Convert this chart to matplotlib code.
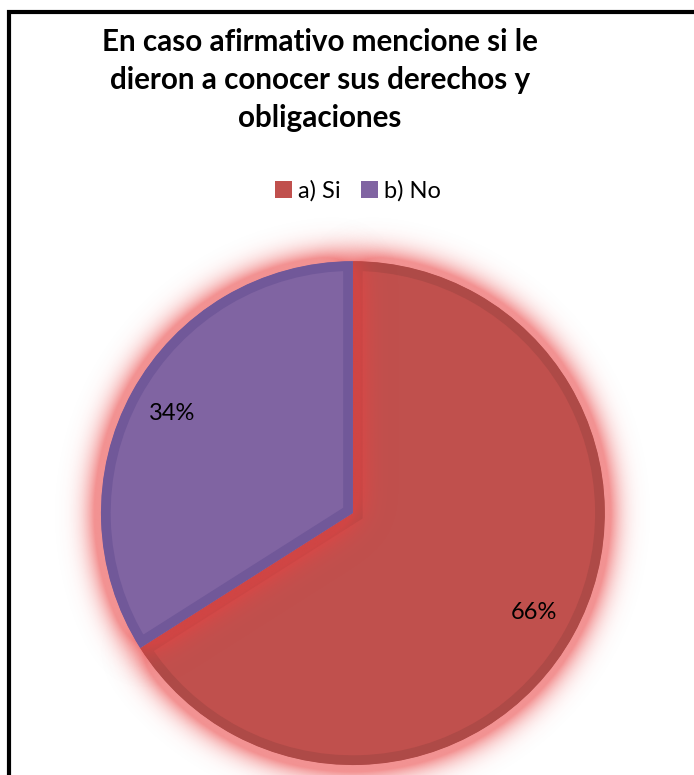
import numpy as np
import matplotlib
matplotlib.use("Agg")
import matplotlib.pyplot as plt
from matplotlib.patches import Patch, Rectangle

plt.rcParams['font.family'] = ['Lato', 'DejaVu Sans']

# survey answers
labels = ['a) Si', 'b) No']
values = [66, 34]
colors = ['#C0504D', '#8064A2']
edge_colors = ['#AE4A47', '#715899']
title = 'En caso afirmativo mencione si le\ndieron a conocer sus derechos y\nobligaciones'

glow_rgb = np.array([234, 66, 66]) / 255.0


def blur(img, sigma):
    # separable gaussian blur, sigma in grid cells
    half = int(4 * sigma)
    k = np.exp(-0.5 * (np.arange(-half, half + 1) / sigma) ** 2)
    k /= k.sum()
    out = np.apply_along_axis(lambda r: np.convolve(r, k, mode='same'), 0, img)
    out = np.apply_along_axis(lambda r: np.convolve(r, k, mode='same'), 1, out)
    return out


def glow_image(wedge, lim, n=700, sigma=0.065, strength=0.58):
    xs = np.linspace(-lim, lim, n)
    X, Y = np.meshgrid(xs, xs)
    cx, cy = wedge.center
    R = np.hypot(X - cx, Y - cy)
    phi = np.degrees(np.arctan2(Y - cy, X - cx))
    span = wedge.theta2 - wedge.theta1
    inside = (R <= wedge.r) & (((phi - wedge.theta1) % 360) <= span)
    b = blur(inside.astype(float), sigma / (2 * lim / n))
    rgba = np.zeros((n, n, 4))
    rgba[..., :3] = glow_rgb
    rgba[..., 3] = strength * np.clip(3.0 * b, 0, 1)
    return rgba


fig = plt.figure(figsize=(6.94, 7.75), dpi=100)

lim = 1.3
ax = fig.add_axes([25.4 / 694, -65.6 / 775, 655 / 694, 655 / 775])

wedges, texts, autotexts = ax.pie(
    values, colors=colors, startangle=90, counterclock=False,
    autopct='%1.0f%%', pctdistance=0.82, radius=1.0,
    textprops={'fontsize': 17, 'color': 'black'},
    wedgeprops={'linewidth': 14, 'joinstyle': 'miter'})

# each slice: glow underneath, then the slice with an inner dark rim
# (pie turns clipping off, so switch it back on to keep the rim inside)
for i, w in enumerate(wedges):
    ax.imshow(glow_image(w, lim), extent=[-lim, lim, -lim, lim],
              origin='lower', zorder=2 * i + 1, interpolation='bilinear')
    w.set_edgecolor(edge_colors[i])
    w.set_clip_on(True)
    w.set_clip_path(w)
    w.set_zorder(2 * i + 2)

for t in autotexts:
    t.set_zorder(10)

ax.set_xlim(-lim, lim)
ax.set_ylim(-lim, lim)
ax.set_aspect('equal')
ax.axis('off')

fig.text(320 / 694, 1 - 80 / 775, title, ha='center', va='center',
         fontsize=21.3, fontweight='bold', linespacing=1.42)

handles = [Patch(facecolor=c, edgecolor='none') for c in colors]
fig.legend(handles, labels, loc='center', bbox_to_anchor=(358 / 694, 1 - 191 / 775),
           ncol=2, frameon=False, fontsize=17, handlelength=0.7, handleheight=0.7,
           handletextpad=0.25, columnspacing=0.9)

# outer chart frame
fig.patches.append(Rectangle((9 / 694, -0.1), 1.2, 1.1 - 11.5 / 775,
                             transform=fig.transFigure, fill=False,
                             edgecolor='black', linewidth=3))

fig.savefig('out.png', dpi=100)
